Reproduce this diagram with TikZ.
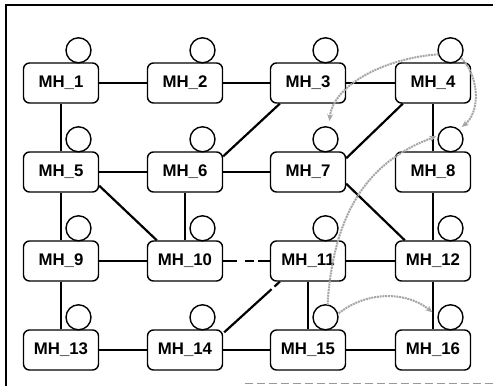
\documentclass[tikz,border=0pt]{standalone}
\usepackage{fontspec}
\setsansfont{Liberation Sans}
\usetikzlibrary{calc,arrows.meta}
\begin{document}
\begin{tikzpicture}[x={(1pt,0)},y={(0,-1pt)},
  mh/.style={draw=black,line width=1.4pt,rounded corners=6pt,fill=white,
    minimum width=75pt,minimum height=40pt,inner sep=0pt,
    font=\sffamily\bfseries\fontsize{16.8}{18}\selectfont},
  circ/.style={draw=black,line width=1.4pt,circle,fill=white,minimum size=25pt,inner sep=0pt},
  link/.style={draw=black,line width=2.2pt},
  mig/.style={draw=black!35,line width=2pt,dash pattern=on 2pt off 0.8pt,
    -{Stealth[length=7pt,width=6pt]}},
  frame/.style={draw=black,line width=1.4pt}]
\useasboundingbox (0,0) rectangle (493,386);
\draw[frame] (6,386) coordinate (fbl) -- (6,5) coordinate (ftl) -- (493,5) coordinate (ftr);
\draw[draw=black!40,line width=1pt,dash pattern=on 8pt off 4pt] (245,383) coordinate (fb1) -- (493,383) coordinate (fb2);

% boxes
\node[mh] (MH_1) at (61,83) {MH\_1};
\node[mh] (MH_2) at (185,83) {MH\_2};
\node[mh] (MH_3) at (308,83) {MH\_3};
\node[mh] (MH_4) at (433,83) {MH\_4};
\node[mh] (MH_5) at (61,172) {MH\_5};
\node[mh] (MH_6) at (185,172) {MH\_6};
\node[mh] (MH_7) at (308,172) {MH\_7};
\node[mh] (MH_8) at (433,172) {MH\_8};
\node[mh] (MH_9) at (61,261) {MH\_9};
\node[mh] (MH_10) at (185,261) {MH\_10};
\node[mh] (MH_11) at (308,261) {MH\_11};
\node[mh] (MH_12) at (433,261) {MH\_12};
\node[mh] (MH_13) at (61,350) {MH\_13};
\node[mh] (MH_14) at (185,350) {MH\_14};
\node[mh] (MH_15) at (308,350) {MH\_15};
\node[mh] (MH_16) at (433,350) {MH\_16};

% links
\draw[link] (MH_1) -- (MH_2);
\draw[link] (MH_2) -- (MH_3);
\draw[link] (MH_3) -- (MH_4);
\draw[link] (MH_1) -- (MH_5);
\draw[link] (MH_5) -- (MH_6);
\draw[link] (MH_6) -- (MH_7);
\draw[link] ($(MH_6.north east)+(0,5)$) -- ($(MH_3.south west)+(10,0)$);
\draw[link] ($(MH_7.north east)+(0,7)$) -- ($(MH_4.south west)+(8,0)$);
\draw[link] (MH_4) -- (MH_8);
\draw[link] (MH_5) -- (MH_9);
\draw[link] ($(MH_5.south east)+(0,-7)$) -- ($(MH_10.north west)+(10,0)$);
\draw[link] (MH_6) -- (MH_10);
\draw[link] ($(MH_7.south east)+(0,-9)$) -- ($(MH_12.north west)+(10,0)$);
\draw[link] (MH_8) -- (MH_12);
\draw[link] (MH_9) -- (MH_10);
\draw[link,dash pattern=on 14pt off 8pt on 9pt off 4pt] (MH_10) -- (MH_11);
\draw[link] (MH_11) -- (MH_12);
\draw[link] (MH_9) -- (MH_13);
\draw[link] (MH_13) -- (MH_14);
\draw[link,dash pattern=on 64pt off 4pt on 20pt] ($(MH_14.north east)+(1,3)$) -- ($(MH_11.south west)+(10,0)$);
\draw[link] (MH_14) -- (MH_15);
\draw[link] (MH_15) -- (MH_16);
\draw[link] (MH_11) -- (MH_15);
\draw[link] (MH_12) -- (MH_16);

% hosts (circles)
\foreach \i in {1,...,16}{
  \node[circ] (c\i) at ($(MH_\i.north)+(17.5,-12)$) {};
}

% migrations
\draw[mig] ($(c4.center)+(-12,4)$) .. controls (385,58) and (333,85) .. ($(c7.north)+(4,-5)$);
\draw[mig] ($(c4.center)+(11,8)$) .. controls (480,78) and (480,112) .. ($(c8.north east)+(2,-3)$);
\draw[mig] ($(c15.north)+(2,1)$) .. controls (334,200) and (378,158) .. ($(c8.west)+(-1,-3)$);
\draw[mig] ($(c15.east)+(0,-4)$) .. controls (368,290) and (408,292) .. ($(c16.west)+(-5,-5)$);
\end{tikzpicture}
\end{document}
